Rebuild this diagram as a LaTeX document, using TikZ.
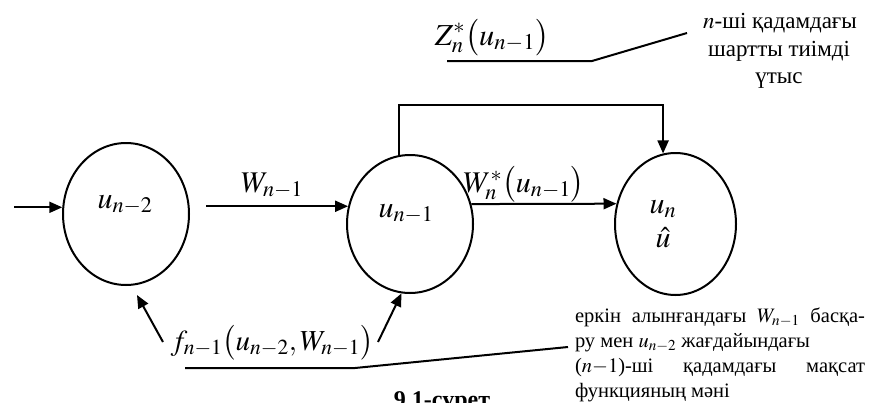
\documentclass[tikz,border=0pt]{standalone}
\usepackage{mathptmx}
\usepackage[no-math]{fontspec}
\setmainfont{Liberation Serif}
\usetikzlibrary{shapes.geometric,arrows.meta,calc}
\begin{document}
\begin{tikzpicture}[x=1pt,y=-1pt,
  line width=2pt,
  state/.style={draw, ellipse, inner sep=0pt, line width=2pt},
  arr/.style={-{Triangle[length=13pt,width=11pt]}, line width=2pt},
  mlab/.style={font=\fontsize{30}{36}\selectfont, inner sep=0pt, anchor=base},
  ktext/.style={font=\fontsize{20.5}{25}\selectfont, inner sep=0pt, anchor=base west},
  ctext/.style={font=\fontsize{23}{27}\selectfont, inner sep=0pt, anchor=base},
]
\useasboundingbox (0,0) rectangle (870,402);

% states
\node[state, minimum width=126pt, minimum height=142pt] (c1) at (126,214) {};
\node[state, minimum width=126pt, minimum height=138pt] (c2) at (410,224) {};
\node[state, minimum width=121pt, minimum height=142pt] (c3) at (675.5,224) {};

\node[mlab] (lu1) at (125,208) {$u_{n-2}$};
\node[mlab] (lu2) at (406,217) {$u_{n-1}$};
\node[mlab, align=center, anchor=north] (lu3) at (663,199) {$u_n$\\[-2pt]$\hat{u}$};

% arrows
\path (c1.174) ++(-48,0) coordinate (in);
\draw[arr] (in) -- (c1.174);
\path (c2.164) ++(-142,0) coordinate (ws);
\draw[arr] (ws) -- (c2.164);
\draw[arr] (c2.18) -- (c3.161);
\coordinate (ty) at (0,105);
\draw[arr] (c2.99) |- (c3.100 |- ty) -- (c3.100);

\coordinate (fa) at (163,342);
\coordinate (ft) at (137,295);
\draw[arr] (fa) -- (ft);
\coordinate (fb) at (378,342);
\draw[arr] (fb) -- (c2.-97);

% labels
\node[mlab] (lw) at (272,192) {$W_{n-1}$};
\node[mlab] (lws) at (524,192) {$W_n^*\bigl(u_{n-1}\bigr)$};
\node[mlab, font=\fontsize{30.5}{36}\selectfont] (lz) at (492,45) {$Z_n^*\bigl(u_{n-1}\bigr)$};
\node[mlab, font=\fontsize{29}{35}\selectfont] (lf) at (272,350) {$f_{n-1}\bigl(u_{n-2},W_{n-1}\bigr)$};

% callout lines
\coordinate (z1) at (447,61);
\coordinate (z2) at (592,61);
\coordinate (z3) at (687,33);
\draw (z1) -- (z2) -- (z3);
\coordinate (f1) at (185,368);
\coordinate (f2) at (355,368);
\coordinate (f3) at (568,347);
\draw (f1) -- (f2) -- (f3);

% notes
\node[ctext] (t1) at (780,28) {$n$-ші қадамдағы};
\node[ctext] (t2) at (779,56) {шартты тиімді};
\node[ctext] (t3) at (779,83) {үтыс};

\node[ktext] (b1) at (574,322) {\makebox[290pt][s]{еркін алынғандағы $W_{n-1}$ басқа-}};
\node[ktext] (b2) at (574,347) {ру мен $u_{n-2}$ жағдайындағы};
\node[ktext] (b3) at (574,372) {\makebox[290pt][s]{($n{-}1$)-ші қадамдағы мақсат}};
\node[ktext] (b4) at (574,397) {функцияның мәні};

\node[font=\bfseries\fontsize{24}{28}\selectfont, inner sep=0pt, anchor=base] (cap) at (442,407) {9.1-сурет};
\end{tikzpicture}
\end{document}
